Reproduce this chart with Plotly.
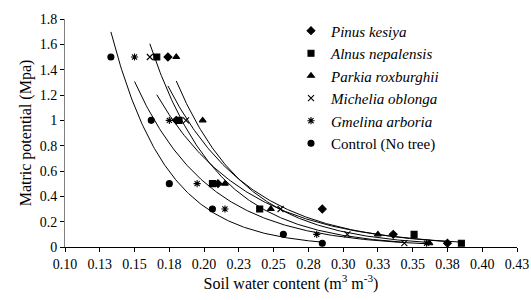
import numpy as np
import plotly.graph_objects as go

# Data
series_names = ["<i>Pinus kesiya</i>", "<i>Alnus nepalensis</i>", "<i>Parkia roxburghii</i>",
                "<i>Michelia oblonga</i>", "<i>Gmelina arboria</i>", "Control (No tree)"]
pinus_x = [0.174, 0.180, 0.210, 0.285, 0.336, 0.375]
pinus_y = [1.5, 1.0, 0.5, 0.3, 0.1, 0.03]
alnus_x = [0.166, 0.182, 0.206, 0.240, 0.351, 0.385]
alnus_y = [1.5, 1.0, 0.5, 0.3, 0.1, 0.03]
parkia_x = [0.180, 0.199, 0.215, 0.248, 0.325, 0.362]
parkia_y = [1.5, 1.0, 0.5, 0.3, 0.1, 0.03]
michelia_x = [0.161, 0.187, 0.208, 0.255, 0.303, 0.344]
michelia_y = [1.5, 1.0, 0.5, 0.3, 0.1, 0.03]
gmelina_x = [0.150, 0.175, 0.195, 0.215, 0.281, 0.360]
gmelina_y = [1.5, 1.0, 0.5, 0.3, 0.1, 0.03]
control_x = [0.133, 0.162, 0.175, 0.206, 0.257, 0.285]
control_y = [1.5, 1.0, 0.5, 0.3, 0.1, 0.03]

x_tickvals = [0.1, 0.125, 0.15, 0.175, 0.2, 0.225, 0.25, 0.275, 0.3, 0.325, 0.35, 0.375, 0.4, 0.425]
x_ticktext = ["0.10", "0.13", "0.15", "0.18", "0.20", "0.23", "0.25", "0.28", "0.30", "0.33",
              "0.35", "0.38", "0.40", "0.43"]
y_tickvals = [0, 0.2, 0.4, 0.6, 0.8, 1.0, 1.2, 1.4, 1.6, 1.8]
y_ticktext = ["0", "0.2", "0.4", "0.6", "0.8", "1", "1.2", "1.4", "1.6", "1.8"]

xs = [pinus_x, alnus_x, parkia_x, michelia_x, gmelina_x, control_x]
ys = [pinus_y, alnus_y, parkia_y, michelia_y, gmelina_y, control_y]
symbols = ["diamond", "square", "triangle-up", "x-thin-open", "asterisk-open", "circle"]
sizes = [6, 6, 6, 6, 6, 6]

FONT = "'Liberation Serif', 'Times New Roman', serif"
fig = go.Figure()

# exponential trendlines (Excel-style log-linear fit)
for x, y in zip(xs, ys):
    x = np.array(x); y = np.array(y)
    b, lna = np.polyfit(x, np.log(y), 1)
    xl = np.linspace(x.min(), x.max(), 200)
    fig.add_trace(go.Scatter(x=xl, y=np.exp(lna + b * xl), mode="lines",
                             line=dict(color="black", width=1), showlegend=False,
                             hoverinfo="skip"))

for i, (name, x, y, sym, sz) in enumerate(zip(series_names, xs, ys, symbols, sizes)):
    fig.add_trace(go.Scatter(x=x, y=y, mode="markers", name=name,
                             marker=dict(symbol=sym, size=sz, color="black",
                                         line=dict(color="black", width=1.1))))

fig.update_layout(
    width=531, height=300,
    margin=dict(l=64.5, r=14.3, t=19, b=52.7, autoexpand=False),
    paper_bgcolor="white", plot_bgcolor="white",
    font=dict(family=FONT, size=14, color="black"),
    legend=dict(x=0.5, y=1.02, xanchor="left", yanchor="top",
                font=dict(family=FONT, size=15, color="black"),
                bgcolor="rgba(0,0,0,0)", itemwidth=30),
    xaxis=dict(range=[0.1, 0.425], tickvals=x_tickvals, ticktext=x_ticktext,
               automargin=False,
               showgrid=False, zeroline=False, showline=True, linecolor="black",
               linewidth=1, ticks="outside", ticklen=4, tickcolor="black",
               tickfont=dict(family=FONT, size=14),
               title=dict(text="Soil water content (m<sup>3</sup> m<sup>-3</sup>)",
                          font=dict(family=FONT, size=16), standoff=4)),
    yaxis=dict(range=[0, 1.8], tickvals=y_tickvals, ticktext=y_ticktext,
               automargin=False,
               showgrid=False, zeroline=False, showline=True, linecolor="#808080",
               linewidth=1, ticks="outside", ticklen=4, tickcolor="black",
               tickfont=dict(family=FONT, size=14),
               title=dict(text="Matric potential (Mpa)", font=dict(family=FONT, size=16),
                          standoff=4)),
)

fig.write_html("out.html", config={"displayModeBar": False},
               post_script="document.body.style.margin='0';document.body.style.padding='0';")
